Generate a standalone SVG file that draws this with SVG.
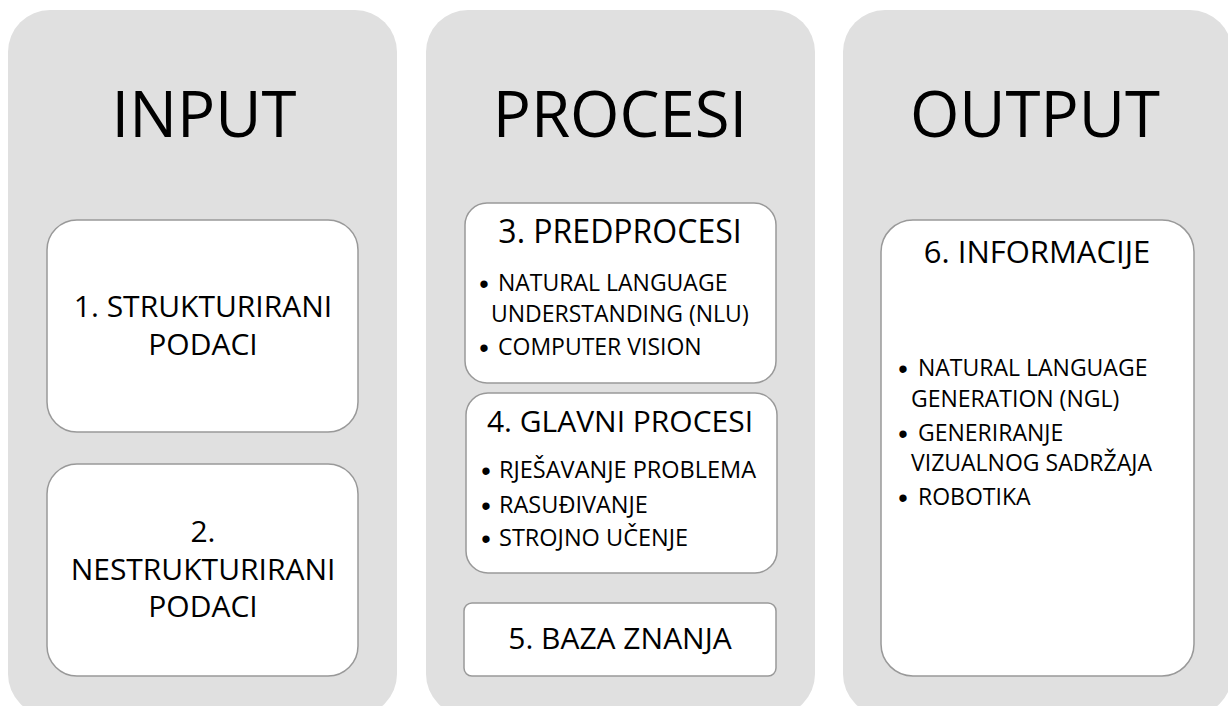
<svg xmlns="http://www.w3.org/2000/svg" width="1228" height="706" viewBox="0 0 1228 706">
<style>
.panel{fill:#e0e0e0;}
.box{fill:#ffffff;stroke:#999999;stroke-width:1.5;}
text{font-family:"Open Sans","Liberation Sans",sans-serif;fill:#000;}
.big{font-size:63.5px;text-anchor:middle;}
.title{font-size:30px;text-anchor:middle;}
.item{font-size:23px;}
.bul{font-family:"Liberation Sans",sans-serif;font-size:27px;text-anchor:middle;}
</style>
<rect width="1228" height="706" fill="#ffffff"/>
<g id="panel-input">
<rect class="panel" x="8" y="10" width="389" height="706" rx="42"/>
<text class="big" x="204" y="137">INPUT</text>
</g>
<g id="panel-procesi">
<rect class="panel" x="426" y="10" width="389" height="706" rx="42"/>
<text class="big" x="620" y="137">PROCESI</text>
</g>
<g id="panel-output">
<rect class="panel" x="843" y="10" width="389" height="706" rx="42"/>
<text class="big" x="1035" y="137">OUTPUT</text>
</g>
<g id="node1">
<rect class="box" x="47" y="220" width="311" height="212" rx="30"/>
<text class="title" x="203" y="317">1. STRUKTURIRANI</text>
<text class="title" x="203" y="355">PODACI</text>
</g>
<g id="node2">
<rect class="box" x="47" y="464" width="311" height="212" rx="30"/>
<text class="title" x="203" y="542">2.</text>
<text class="title" x="203" y="580">NESTRUKTURIRANI</text>
<text class="title" x="203" y="617">PODACI</text>
</g>
<g id="node3">
<rect class="box" x="465" y="203" width="311" height="180" rx="22"/>
<text class="title" x="620" y="243" style="font-size:32px">3. PREDPROCESI</text>
<text class="bul" x="484" y="292.5">•</text>
<text class="item" x="498" y="291">NATURAL LANGUAGE</text>
<text class="item" x="491" y="322">UNDERSTANDING (NLU)</text>
<text class="bul" x="484" y="356.5">•</text>
<text class="item" x="498" y="355">COMPUTER VISION</text>
</g>
<g id="node4">
<rect class="box" x="466" y="393" width="311" height="180" rx="22"/>
<text class="title" x="620" y="432">4. GLAVNI PROCESI</text>
<text class="bul" x="486" y="479.5">•</text>
<text class="item" x="499" y="478" style="font-size:23.5px">RJEŠAVANJE PROBLEMA</text>
<text class="bul" x="486" y="514.5">•</text>
<text class="item" x="499" y="513" style="font-size:23.5px">RASUĐIVANJE</text>
<text class="bul" x="486" y="547.5">•</text>
<text class="item" x="499" y="546" style="font-size:23.5px">STROJNO UČENJE</text>
</g>
<g id="node5">
<rect class="box" x="464" y="603" width="312" height="73" rx="8"/>
<text class="title" x="620" y="649">5. BAZA ZNANJA</text>
</g>
<g id="node6">
<rect class="box" x="881" y="220" width="313" height="456" rx="32"/>
<text class="title" x="1037" y="263" style="font-size:31px">6. INFORMACIJE</text>
<text class="bul" x="903" y="377.5">•</text>
<text class="item" x="918" y="376">NATURAL LANGUAGE</text>
<text class="item" x="911" y="407">GENERATION (NGL)</text>
<text class="bul" x="903" y="442.5">•</text>
<text class="item" x="918" y="441">GENERIRANJE</text>
<text class="item" x="911" y="471">VIZUALNOG SADRŽAJA</text>
<text class="bul" x="903" y="506.5">•</text>
<text class="item" x="918" y="505">ROBOTIKA</text>
</g>
<g id="connectors"></g>
</svg>
